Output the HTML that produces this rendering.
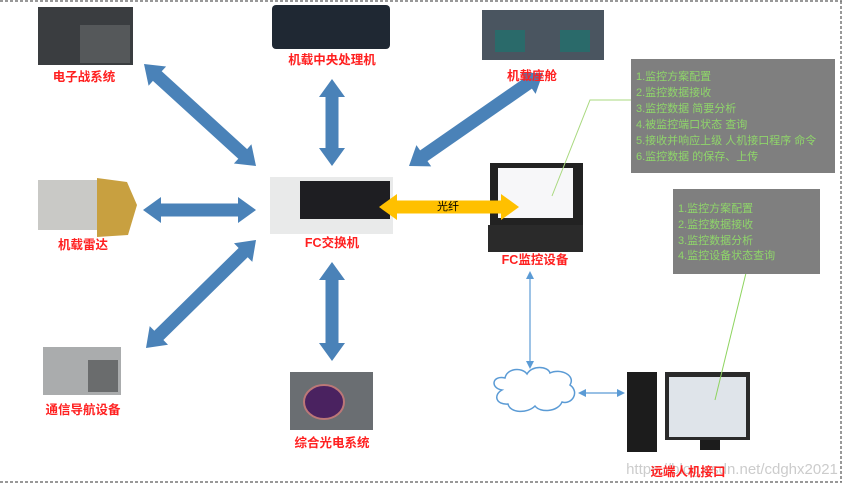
<!DOCTYPE html>
<html><head><meta charset="utf-8"><style>
html,body{margin:0;padding:0;background:#fff;}
svg{display:block;}
text{font-family:"Liberation Sans","Noto Sans CJK SC",sans-serif;}
.lab{fill:#ff2020;font-size:12.5px;text-anchor:middle;font-weight:bold;}
.g{fill:#8fd66a;font-size:11px;}
</style></head><body>
<svg id="s" width="845" height="487" viewBox="0 0 845 487" xmlns="http://www.w3.org/2000/svg">
<line x1="0" y1="1" x2="842" y2="1" stroke="#777" stroke-dasharray="3,2" stroke-width="1.5"/>
<line x1="0" y1="482" x2="842" y2="482" stroke="#777" stroke-dasharray="3,2" stroke-width="1.5"/>
<line x1="841" y1="1" x2="841" y2="482" stroke="#777" stroke-dasharray="3,2" stroke-width="1.5"/>
<rect x="38" y="7" width="95" height="58" fill="#3a3d40"/>
<rect x="80" y="25" width="50" height="38" fill="#55585a"/>
<rect x="272" y="5" width="118" height="44" rx="4" fill="#1f2833"/>
<rect x="482" y="10" width="122" height="50" fill="#4a5560"/>
<rect x="495" y="30" width="30" height="22" fill="#2a6a6a"/>
<rect x="560" y="30" width="30" height="22" fill="#2a6a6a"/>
<rect x="38" y="180" width="60" height="50" fill="#c9c9c6"/>
<polygon points="97,178 127,182 137,205 128,235 97,237" fill="#c8a040"/>
<rect x="270" y="177" width="123" height="57" fill="#e9eaea"/>
<rect x="300" y="181" width="90" height="38" fill="#1e1e22"/>
<rect x="490" y="163" width="93" height="62" fill="#222"/>
<rect x="498" y="168" width="75" height="50" fill="#f7f7f9"/>
<rect x="488" y="225" width="95" height="27" fill="#2a2a2a"/>
<rect x="43" y="347" width="78" height="48" fill="#aaacad"/>
<rect x="88" y="360" width="30" height="32" fill="#6a6c6d"/>
<rect x="290" y="372" width="83" height="58" fill="#6a6e72"/>
<ellipse cx="324" cy="402" rx="20" ry="17" fill="#4a2260" stroke="#b77" stroke-width="2"/>
<rect x="627" y="372" width="30" height="80" fill="#1c1c1c"/>
<rect x="665" y="372" width="85" height="68" fill="#2a2a2a"/>
<rect x="669" y="377" width="77" height="60" fill="#dfe4ea"/>
<rect x="700" y="440" width="20" height="10" fill="#1c1c1c"/>
<path d="M502,390 C490,388 492,375 505,378 C507,368 522,367 527,374 C532,365 548,366 550,373 C560,368 576,375 570,385 C580,392 572,405 562,402 C558,412 540,413 535,406 C527,414 510,413 508,404 C496,405 493,395 502,390 Z" fill="#fff" stroke="#5b9bd5" stroke-width="1.5"/>
<g stroke="#5b9bd5" stroke-width="1.2" fill="#5b9bd5">
<line x1="530" y1="276" x2="530" y2="364"/>
<polygon points="530,271 526,279 534,279" stroke="none"/>
<polygon points="530,369 526,361 534,361" stroke="none"/>
<line x1="583" y1="393" x2="620" y2="393"/>
<polygon points="578,393 586,389 586,397" stroke="none"/>
<polygon points="625,393 617,389 617,397" stroke="none"/>
</g>
<g id="arrows"></g>
<text x="448" y="210" font-size="11" text-anchor="middle" fill="#000">光纤</text>
<polyline points="552,196 590,100 632,100" fill="none" stroke="#a9d97f" stroke-width="1"/>
<line x1="746" y1="273" x2="715" y2="400" stroke="#8ed45f" stroke-width="1"/>
<rect x="631" y="59" width="204" height="114" fill="#7f7f7f"/>
<text class="g" x="636" y="80">1.监控方案配置</text>
<text class="g" x="636" y="96">2.监控数据接收</text>
<text class="g" x="636" y="112">3.监控数据 简要分析</text>
<text class="g" x="636" y="128">4.被监控端口状态 查询</text>
<text class="g" x="636" y="144">5.接收并响应上级 人机接口程序 命令</text>
<text class="g" x="636" y="160">6.监控数据 的保存、上传</text>
<rect x="673" y="189" width="147" height="85" fill="#7f7f7f"/>
<text class="g" x="678" y="212">1.监控方案配置</text>
<text class="g" x="678" y="228">2.监控数据接收</text>
<text class="g" x="678" y="244">3.监控数据分析</text>
<text class="g" x="678" y="259">4.监控设备状态查询</text>
<text class="lab" x="84" y="81">电子战系统</text>
<text class="lab" x="332" y="64">机载中央处理机</text>
<text class="lab" x="532" y="80">机载座舱</text>
<text class="lab" x="83" y="249">机载雷达</text>
<text class="lab" x="332" y="247">FC交换机</text>
<text class="lab" x="535" y="264">FC监控设备</text>
<text class="lab" x="83" y="414">通信导航设备</text>
<text class="lab" x="332" y="447">综合光电系统</text>
<text x="732" y="474" font-size="15" fill="#ccc" text-anchor="middle">https://blog.csdn.net/cdghx2021</text>
<text class="lab" x="688" y="476">远端人机接口</text>
</svg>
<script>
function arr(x1,y1,x2,y2,col){
 var dx=x2-x1,dy=y2-y1,L=Math.hypot(dx,dy),ux=dx/L,uy=dy/L,nx=-uy,ny=ux;
 var sw=6.5,hw=13,hl=18;
 function p(a,b){return (x1+ux*a+nx*b).toFixed(1)+","+(y1+uy*a+ny*b).toFixed(1);}
 var pts=[p(0,0),p(hl,hw),p(hl,sw),p(L-hl,sw),p(L-hl,hw),p(L,0),p(L-hl,-hw),p(L-hl,-sw),p(hl,-sw),p(hl,-hw)];
 var e=document.createElementNS("http://www.w3.org/2000/svg","polygon");
 e.setAttribute("points",pts.join(" "));e.setAttribute("fill",col);
 document.getElementById("arrows").appendChild(e);
}
var b="#4a82b8";
arr(144,64,256,166,b);
arr(332,79,332,166,b);
arr(543,73,409,166,b);
arr(143,210,256,210,b);
arr(256,240,146,348,b);
arr(332,262,332,361,b);
arr(379,207,519,207,"#ffc000");
</script>
</body></html>
